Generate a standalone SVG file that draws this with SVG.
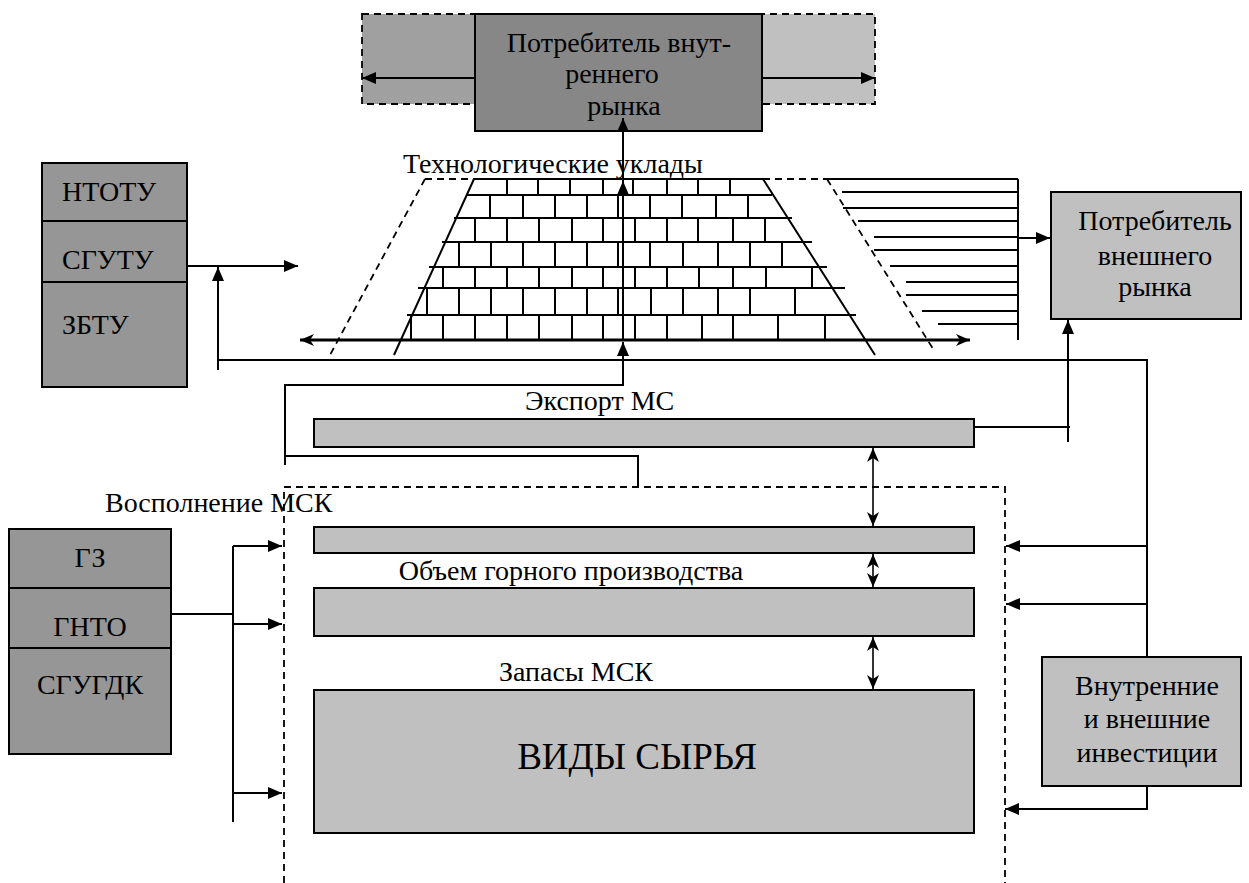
<svg xmlns="http://www.w3.org/2000/svg" width="1249" height="883" viewBox="0 0 1249 883">
<defs>
<style>
.m{text-anchor:middle}
.ln{fill:none;stroke:#000;stroke-width:2}
.dash{fill:none;stroke:#000;stroke-width:1.8;stroke-dasharray:7,5}
.box{stroke:#000;stroke-width:2}
.dark{fill:#969696}
.light{fill:#c0c0c0}
.arr{fill:none;stroke:#000;stroke-width:2;marker-end:url(#ah)}
.dbl{fill:none;stroke:#000;stroke-width:1.6;marker-start:url(#bh);marker-end:url(#bh)}
</style>
<marker id="ah" markerUnits="userSpaceOnUse" markerWidth="16" markerHeight="14" refX="14" refY="6" orient="auto-start-reverse"><path d="M0,0 L14,6 L0,12 z" fill="#000"/></marker>
<marker id="bh" markerUnits="userSpaceOnUse" markerWidth="16" markerHeight="14" refX="14" refY="6" orient="auto-start-reverse"><path d="M0,0 L14,6 L0,12 L4,6 z" fill="#000"/></marker>
</defs>

<g id="inner-consumer" font-family="Liberation Serif, serif" font-size="28">
<rect x="362" y="14" width="113" height="90" fill="#a0a0a0"/>
<rect x="762" y="14" width="113" height="90" fill="#c0c0c0"/>
<rect x="362" y="14" width="513" height="90" class="dash"/>
<rect x="475" y="14" width="287" height="117" fill="#878787" class="box"/>
<text x="619" y="52" class="m" font-family="Liberation Serif, serif">Потребитель внут-</text>
<text x="612" y="83" class="m" font-family="Liberation Serif, serif">реннего</text>
<text x="624" y="115" class="m" font-family="Liberation Serif, serif">рынка</text>
</g>

<g id="left-top" font-family="Liberation Serif, serif" font-size="28">
<rect x="42" y="163" width="145" height="224" class="box dark"/>
<line x1="42" y1="221" x2="187" y2="221" class="ln"/>
<line x1="42" y1="282" x2="187" y2="282" class="ln"/>
<text x="62" y="201" font-family="Liberation Serif, serif">НТОТУ</text>
<text x="62" y="269" font-family="Liberation Serif, serif">СГУТУ</text>
<text x="62" y="334" font-family="Liberation Serif, serif">ЗБТУ</text>
</g>

<g id="wall" font-family="Liberation Serif, serif" font-size="28">
<text x="403" y="173" font-family="Liberation Serif, serif">Технологические уклады</text>
<path d="M425,179 L474,179 M763,179 L827,179 M425,179 L330,355 M827,179 L935,352" class="dash"/>
<path d="M474,179 L394,355 M763,179 L875,355 M474,179 L763,179" class="ln"/>
<path class="ln" d="M467,195 L772,195 M454,218 L792,218 M442,242 L812,242 M429,267 L827,267 M418,288 L845,288 M407,315 L856,315"/>
<path class="ln" d="M507,179V195M538,179V195M570,179V195M603,179V195M633,179V195M667,179V195M698,179V195M730,179V195
M490,195V218M523,195V218M555,195V218M587,195V218M618,195V218M650,195V218M682,195V218M716,195V218M748,195V218
M475,218V242M507,218V242M539,218V242M572,218V242M603,218V242M635,218V242M667,218V242M698,218V242M733,218V242M765,218V242
M459,242V267M491,242V267M523,242V267M555,242V267M587,242V267M618,242V267M650,242V267M683,242V267M718,242V267M750,242V267M782,242V267
M443,267V288M475,267V288M507,267V288M539,267V288M572,267V288M603,267V288M635,267V288M667,267V288M699,267V288M733,267V288M766,267V288M812,267V288
M427,288V315M459,288V315M491,288V315M523,288V315M555,288V315M587,288V315M618,288V315M651,288V315M683,288V315M718,288V315M750,288V315M795,288V315
M411,315V340M443,315V340M475,315V340M507,315V340M539,315V340M572,315V340M603,315V340M635,315V340M667,315V340M702,315V340M733,315V340M778,315V340M825,315V340"/>
<path class="ln" d="M827,179 L1018,179 M842,192 L1018,192 M843,208 L1018,208 M858,221 L1018,221 M874,237 L1018,237 M874,250 L1018,250 M890,266 L1018,266 M906,282 L1018,282 M906,295 L1018,295 M922,311 L1018,311 M938,324 L1018,324 M1018,179 L1018,340"/>
</g>

<g id="outer-consumer" font-family="Liberation Serif, serif" font-size="28">
<rect x="1051" y="192" width="190" height="127" class="box light"/>
<text x="1155" y="230" class="m" font-family="Liberation Serif, serif">Потребитель</text>
<text x="1155" y="265" class="m" font-family="Liberation Serif, serif">внешнего</text>
<text x="1155" y="296" class="m" font-family="Liberation Serif, serif">рынка</text>
</g>

<g id="export" font-family="Liberation Serif, serif" font-size="28">
<text x="525" y="410" font-family="Liberation Serif, serif">Экспорт МС</text>
<rect x="314" y="419" width="660" height="28" class="box light"/>
</g>

<g id="msk-frame" font-family="Liberation Serif, serif" font-size="28">
<path d="M284,883 L284,487 L1005,487 L1005,883" class="dash"/>
<text x="105" y="512" font-family="Liberation Serif, serif">Восполнение МСК</text>
</g>

<g id="replenish">
<rect x="314" y="527" width="660" height="26" class="box light"/>
</g>

<g id="volume" font-family="Liberation Serif, serif" font-size="28">
<text x="571" y="580" class="m" font-family="Liberation Serif, serif">Объем горного производства</text>
<rect x="314" y="588" width="660" height="48" class="box light"/>
</g>

<g id="reserves" font-family="Liberation Serif, serif" font-size="28">
<text x="499" y="681" font-family="Liberation Serif, serif">Запасы МСК</text>
<rect x="314" y="690" width="660" height="143" class="box light"/>
<text x="637" y="769" class="m" font-family="Liberation Serif, serif" font-size="37">ВИДЫ СЫРЬЯ</text>
</g>

<g id="left-bottom" font-family="Liberation Serif, serif" font-size="28">
<rect x="9" y="529" width="162" height="225" class="box dark"/>
<line x1="9" y1="588" x2="171" y2="588" class="ln"/>
<line x1="9" y1="648" x2="171" y2="648" class="ln"/>
<text x="90" y="567" class="m" font-family="Liberation Serif, serif">ГЗ</text>
<text x="90" y="636" class="m" font-family="Liberation Serif, serif">ГНТО</text>
<text x="90" y="694" class="m" font-family="Liberation Serif, serif">СГУГДК</text>
</g>

<g id="investments" font-family="Liberation Serif, serif" font-size="28">
<rect x="1042" y="657" width="199" height="129" class="box light"/>
<text x="1147" y="695" class="m" font-family="Liberation Serif, serif">Внутренние</text>
<text x="1147" y="728" class="m" font-family="Liberation Serif, serif">и внешние</text>
<text x="1147" y="762" class="m" font-family="Liberation Serif, serif">инвестиции</text>
</g>

<g id="connectors">
<path d="M475,78 L362,78" class="arr"/>
<path d="M762,78 L875,78" class="arr"/>
<path d="M623,340 L623,118" class="arr"/>
<path d="M623,250 L623,181" class="arr"/>
<path d="M300,340 L970,340" fill="none" stroke="#000" stroke-width="3" marker-start="url(#bh)" marker-end="url(#bh)"/>
<path d="M187,266 L298,266" class="arr"/>
<path d="M218,370 L218,267" class="arr"/>
<path d="M218,360 L1147,360 L1147,657" class="ln"/>
<path d="M285,465 L285,385 L623,385 L623,342" class="arr"/>
<path d="M285,456 L638,456 L638,487" class="ln"/>
<path d="M1018,238 L1050,238" class="arr"/>
<path d="M974,427 L1070,427" class="ln"/>
<path d="M1068,442 L1068,320" class="arr"/>
<path d="M1147,546 L1006,546" class="arr"/>
<path d="M1147,604 L1006,604" class="arr"/>
<path d="M1147,786 L1147,809 L1005,809" class="arr"/>
<path d="M873,448 L873,526" class="dbl"/>
<path d="M873,554 L873,587" class="dbl"/>
<path d="M873,637 L873,689" class="dbl"/>
<path d="M171,614 L233,614 M233,546 L233,822" class="ln"/>
<path d="M233,546 L282,546" class="arr"/>
<path d="M233,624 L282,624" class="arr"/>
<path d="M233,793 L282,793" class="arr"/>
</g>
</svg>
